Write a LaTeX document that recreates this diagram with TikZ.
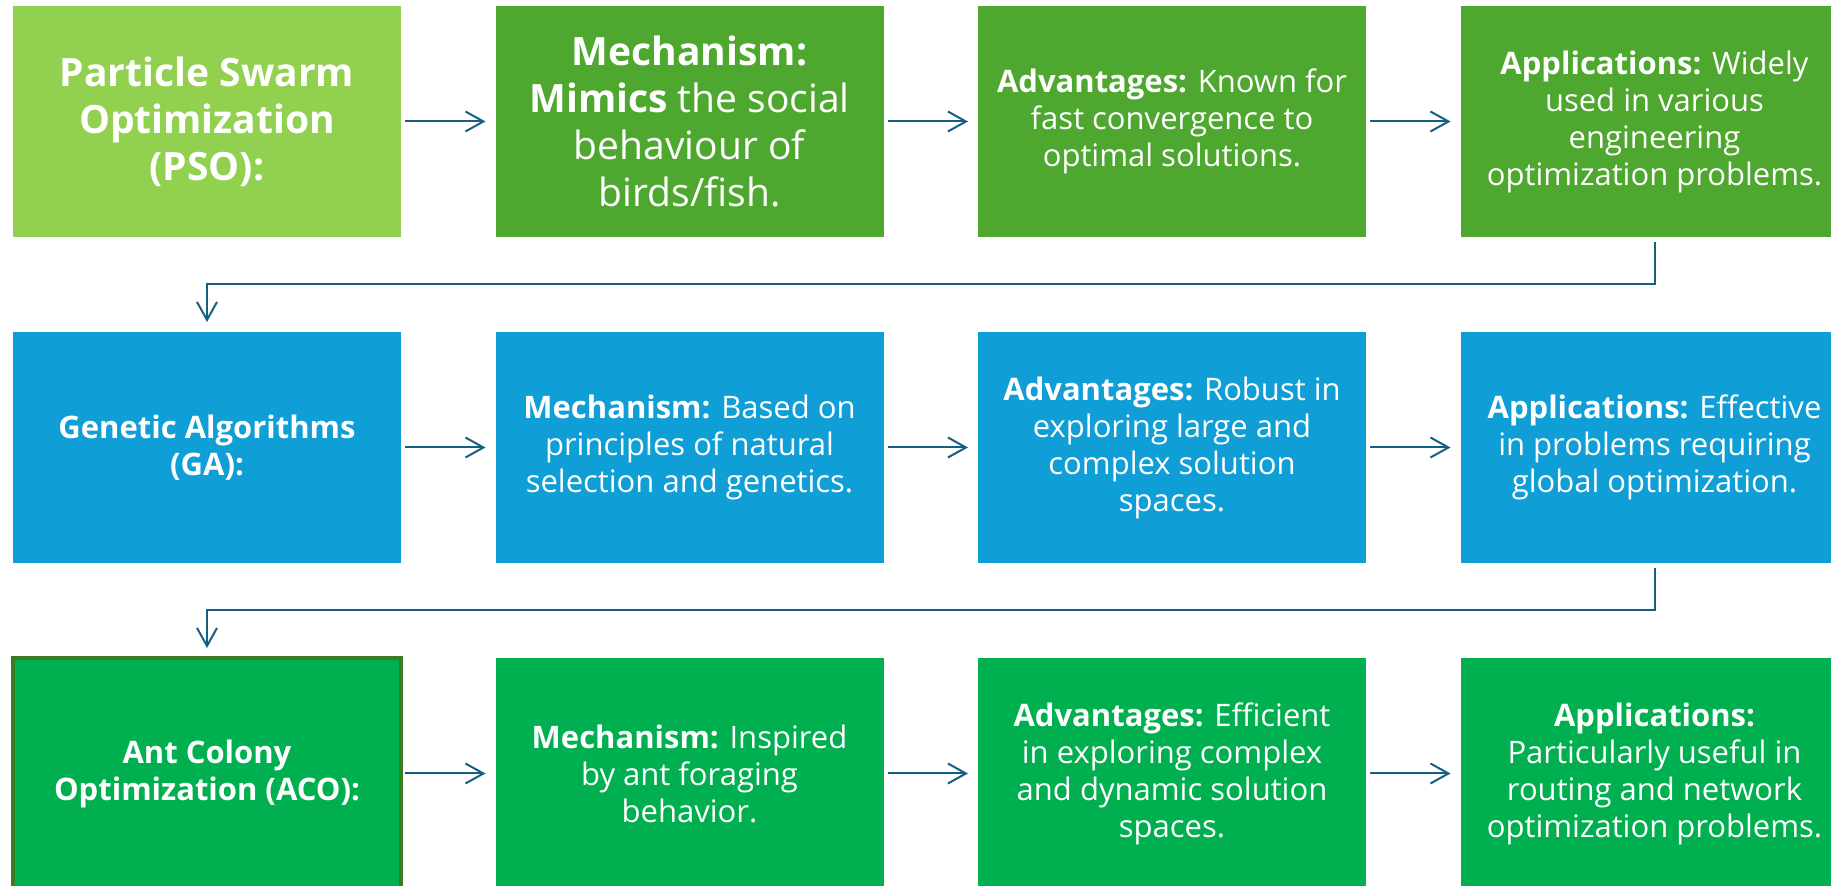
\documentclass[tikz,border=0pt]{standalone}
\usepackage{fontspec}
\setmainfont{Open Sans}
\usepackage{tikz}
\usetikzlibrary{arrows.meta, positioning}

\definecolor{psolight}{HTML}{92D050}
\definecolor{psogreen}{HTML}{4EA72E}
\definecolor{gablue}{HTML}{0F9ED5}
\definecolor{acogreen}{HTML}{00B050}
\definecolor{acoedge}{HTML}{3A7C22}
\definecolor{linkblue}{HTML}{156082}

\tikzset{
    box/.style = {rectangle, minimum width=194pt, minimum height=115.5pt,
        inner sep=2pt, outer sep=0pt, align=center, text=white,
        font=\fontsize{15.5}{18.5}\selectfont},
    big/.style = {font=\fontsize{19.5}{23.5}\selectfont},
    link/.style = {draw=linkblue, color=linkblue, line width=1pt,
        -{Straight Barb[length=9pt, width=10pt]},
        shorten <=2pt, shorten >=5pt}
}

\begin{document}
\begin{tikzpicture}[node distance = 47.5pt and 47.25pt]
    \clip (0,0) rectangle (915.5pt,-443pt);
    % first row: PSO
    \node (1) [box, big, fill=psolight, font=\bfseries\fontsize{19.5}{23.5}\selectfont]
        at (103.5pt,-60.75pt) {Particle Swarm\\Optimization\\(PSO):};
    \node (2) [box, big, fill=psogreen, right = of 1]
        {\textbf{Mechanism:}\\\textbf{Mimics} the social\\behaviour of\\birds/fish.};
    \node (3) [box, fill=psogreen, right = of 2]
        {\textbf{Advantages:} Known for\\fast convergence to\\optimal solutions.};
    \node (4) [box, fill=psogreen, right = of 3]
        {\textbf{Applications:} Widely\\used in various\\engineering\\optimization problems.};
    % second row: GA
    \node (5) [box, fill=gablue, below = of 1, font=\bfseries\fontsize{15.5}{18.5}\selectfont]
        {Genetic Algorithms\\(GA):};
    \node (6) [box, fill=gablue, right = of 5]
        {\textbf{Mechanism:} Based on\\principles of natural\\selection and genetics.};
    \node (7) [box, fill=gablue, right = of 6]
        {\textbf{Advantages:} Robust in\\exploring large and\\complex solution\\spaces.};
    \node (8) [box, fill=gablue, right = of 7]
        {\textbf{Applications:} Effective\\in problems requiring\\global optimization.};
    % third row: ACO
    \node (9) [box, fill=acogreen, draw=acoedge, line width=2pt, below = of 5,
        font=\bfseries\fontsize{15.5}{18.5}\selectfont]
        {Ant Colony\\Optimization (ACO):};
    \node (10) [box, fill=acogreen, right = of 9]
        {\textbf{Mechanism:} Inspired\\by ant foraging\\behavior.};
    \node (11) [box, fill=acogreen, right = of 10]
        {\textbf{Advantages:} Efficient\\in exploring complex\\and dynamic solution\\spaces.};
    \node (12) [box, fill=acogreen, right = of 11]
        {\textbf{Applications:}\\Particularly useful in\\routing and network\\optimization problems.};

    \path [link]
        (1) edge (2)
        (2) edge (3)
        (3) edge (4)
        (5) edge (6)
        (6) edge (7)
        (7) edge (8)
        (9) edge (10)
        (10) edge (11)
        (11) edge (12);
    \draw [link, shorten <=2.5pt] (4.south) -- ++(0,-23.75pt) -| (5.north);
    \draw [link, shorten <=2.5pt] (8.south) -- ++(0,-23.75pt) -| (9.north);
\end{tikzpicture}
\end{document}
